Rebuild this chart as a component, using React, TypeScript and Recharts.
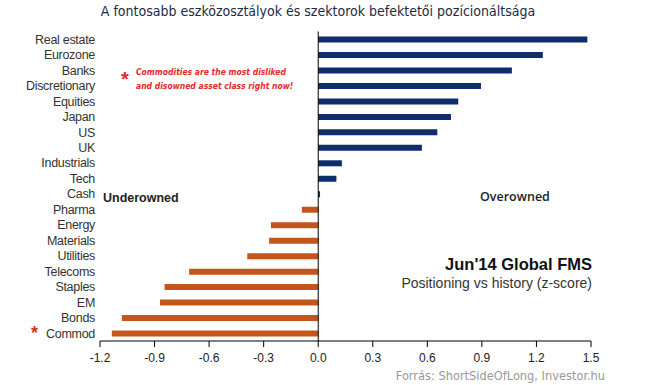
import React from 'react'
import { BarChart, Bar, XAxis, YAxis, ReferenceLine, Cell } from 'recharts'

const CATEGORIES = [
  'Real estate', 'Eurozone', 'Banks', 'Discretionary', 'Equities', 'Japan', 'US', 'UK',
  'Industrials', 'Tech', 'Cash', 'Pharma', 'Energy', 'Materials', 'Utilities', 'Telecoms',
  'Staples', 'EM', 'Bonds', 'Commod'
]
const ZSCORES = [
  1.48, 1.235, 1.065, 0.895, 0.77, 0.73, 0.655, 0.57,
  0.13, 0.1, 0.01, -0.09, -0.26, -0.27, -0.39, -0.71,
  -0.845, -0.87, -1.08, -1.135
]
const X_TICKS = [-1.2, -0.9, -0.6, -0.3, 0, 0.3, 0.6, 0.9, 1.2, 1.5]

const NAVY = '#0f2c6b'
const ORANGE = '#c4561b'

const data = CATEGORIES.map((name, i) => ({ name, value: ZSCORES[i] }))

const abs = (style: React.CSSProperties): React.CSSProperties => ({
  position: 'absolute',
  whiteSpace: 'nowrap',
  lineHeight: 1,
  ...style
})

export default function App() {
  return (
    <div style={{ position: 'absolute', left: 0, top: 0, width: 645, height: 385, background: '#fff' }}>
      <BarChart
        width={645}
        height={385}
        data={data}
        layout="vertical"
        margin={{ top: 31.5, right: 54, bottom: 14, left: 0 }}
      >
        <XAxis
          type="number"
          domain={[-1.2, 1.5]}
          ticks={X_TICKS}
          tickFormatter={(v: number) => v.toFixed(1)}
          height={30}
          stroke="#000"
          tickSize={6}
          tickMargin={6}
          tick={{ fontSize: 12, fill: '#222', fontFamily: 'Liberation Sans, Arial, sans-serif' }}
          allowDataOverflow
        />
        <YAxis
          type="category"
          dataKey="name"
          width={100}
          axisLine={false}
          tickLine={false}
          tickSize={0}
          tickMargin={5}
          interval={0}
          tick={{ fontSize: 12.5, fill: '#333', fontFamily: 'Liberation Sans, Arial, sans-serif', letterSpacing: -0.3 }}
        />
        <ReferenceLine x={0} stroke="#000" strokeWidth={1} />
        <Bar dataKey="value" barSize={6} isAnimationActive={false}>
          {data.map((d, i) => (
            <Cell key={`c-${i}`} fill={d.value >= 0 ? NAVY : ORANGE} />
          ))}
        </Bar>
      </BarChart>

      <div style={abs({ left: 0, width: 636, top: 4, textAlign: 'center', fontFamily: 'DejaVu Sans Condensed, sans-serif', fontSize: 14, color: '#1a2a48' })}>
        A fontosabb eszközosztályok és szektorok befektetői pozícionáltsága
      </div>

      <div style={abs({ left: 121, top: 69, fontFamily: 'Liberation Sans, Arial, sans-serif', fontSize: 20, fontWeight: 'bold', color: '#e32b2b' })}>*</div>
      <div style={abs({ left: 136, top: 66, fontFamily: 'DejaVu Sans Condensed, sans-serif', fontSize: 8.5, fontWeight: 'bold', fontStyle: 'italic', color: '#e32b2b', lineHeight: '13.5px' })}>
        Commodities are the most disliked<br />and disowned asset class right now!
      </div>

      <div style={abs({ left: 31, top: 324, fontFamily: 'Liberation Sans, Arial, sans-serif', fontSize: 18, fontWeight: 'bold', color: '#e32b2b' })}>*</div>

      <div style={abs({ left: 103, top: 192, fontFamily: 'Liberation Sans, Arial, sans-serif', fontSize: 12.5, fontWeight: 'bold', color: '#222' })}>
        Underowned
      </div>
      <div style={abs({ left: 480, top: 191, fontFamily: 'Open Sans, sans-serif', fontSize: 12.5, fontWeight: 600, color: '#222' })}>
        Overowned
      </div>

      <div style={abs({ right: 53, top: 256, fontFamily: 'Liberation Sans, Arial, sans-serif', fontSize: 16.5, fontWeight: 'bold', color: '#111' })}>
        Jun'14 Global FMS
      </div>
      <div style={abs({ right: 53, top: 276, fontFamily: 'Liberation Sans, Arial, sans-serif', fontSize: 14, color: '#333' })}>
        Positioning vs history (z-score)
      </div>

      <div style={abs({ right: 40, top: 370, fontFamily: 'DejaVu Sans Condensed, sans-serif', fontSize: 12.7, color: '#999' })}>
        Forrás: ShortSideOfLong, Investor.hu
      </div>
    </div>
  )
}
